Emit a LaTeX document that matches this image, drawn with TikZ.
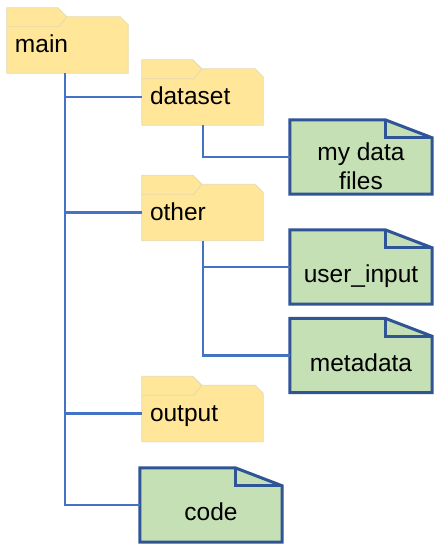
\documentclass[tikz,border=0pt]{standalone}
\usepackage{fontspec}
\setmainfont{Liberation Sans}
\usepackage{tikz}
\usetikzlibrary{positioning,backgrounds,calc}
\definecolor{fdfill}{HTML}{FFE699}
\definecolor{fdline}{HTML}{E6D9AE}
\definecolor{dcfill}{HTML}{C5E0B4}
\definecolor{dcline}{HTML}{2F5597}
\definecolor{treeblue}{HTML}{4472C4}
\tikzset{
 folder/.style={rectangle, minimum width=121pt, minimum height=56pt,
 text width=105pt, inner xsep=8pt, inner ysep=0pt, align=left,
 text height=17pt, text depth=1pt, font=\fontsize{24.5}{29}\selectfont},
 docnode/.style={rectangle, minimum width=142pt, minimum height=56pt,
 inner sep=0pt, align=center, text height=17pt, text depth=3pt,
 font=\fontsize{24.5}{29}\selectfont},
 folderline/.style={draw=fdline, fill=fdfill, line width=0.8pt},
 docline/.style={draw=dcline, fill=dcfill, line width=3pt},
 branch/.style={draw=treeblue, line width=2.6pt},
}

\begin{document}
\begin{tikzpicture}[x=1pt,y=1pt]
\useasboundingbox (0,0) rectangle (440,550);

% Folders (node = body under the tab)
\node[folder] (main)    at (67.5,505)   {main};
\node[folder] (dataset) at (202.5,453)  {dataset};
\node[folder] (other)   at (202.5,337.5) {other};
\node[folder] (output)  at (202.5,136.5) {output};

% Documents (node = part under the folded corner)
\node[docnode, text height=, text depth=] (files) at (361,384) {my data\\files};
\node[docnode] (userin) at (361,274)   {user\_input};
\node[docnode] (meta)   at (361,185.5) {metadata};
\node[docnode] (code)   at (211,36)    {code};

% Shapes behind the labels
\begin{scope}[on background layer]
  \foreach \f in {main,dataset,other,output} {
    \draw[folderline] (\f.south west) -- ([yshift=9pt]\f.north west)
      -- ([xshift=51pt,yshift=9pt]\f.north west) -- ([xshift=60pt]\f.north west)
      -- ([xshift=-8pt]\f.north east) -- ([yshift=-8pt]\f.north east)
      -- (\f.south east) -- cycle;
    \draw[folderline, fill=none] ([yshift=-10pt]\f.north west)
      -- ([xshift=52pt,yshift=-10pt]\f.north west) -- ([xshift=60pt]\f.north west);
  }
  \foreach \d in {files,userin,meta,code} {
    \draw[docline] (\d.south west) -- ([yshift=18pt]\d.north west)
      -- ([xshift=-47pt,yshift=18pt]\d.north east) -- (\d.north east)
      -- (\d.south east) -- cycle;
    \draw[docline, fill=none] ([xshift=-47pt,yshift=18pt]\d.north east) |- (\d.north east);
  }
\end{scope}

% Tree connectors
\coordinate (mainfork)  at ([xshift=58pt]main.south west);
\coordinate (datafork)  at ([xshift=61pt]dataset.south west);
\coordinate (otherfork) at ([xshift=61pt]other.south west);

\draw[branch] (mainfork) |- ([yshift=9pt]code.west);
\draw[branch] (mainfork) |- (dataset.west);
\draw[branch] (mainfork) |- (other.west);
\draw[branch] (mainfork) |- (output.west);

\draw[branch] (datafork)  |- ([yshift=9pt]files.west);
\draw[branch] (otherfork) |- ([yshift=9pt]userin.west);
\draw[branch] (otherfork) |- ([yshift=9pt]meta.west);

\end{tikzpicture}
\end{document}
